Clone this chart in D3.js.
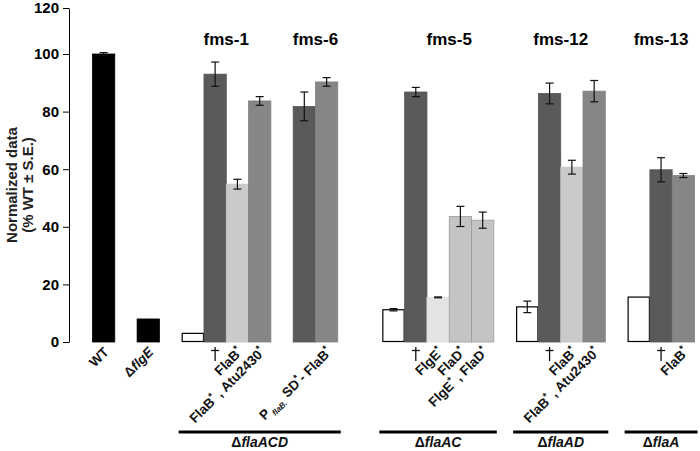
<!DOCTYPE html>
<html>
<head>
<meta charset="utf-8">
<script src="https://cdn.jsdelivr.net/npm/d3@7"></script>
<style>
  html, body { margin: 0; padding: 0; background: #fff; }
  svg { display: block; font-family: "Liberation Sans", Arial, sans-serif; }
</style>
</head>
<body>
<svg id="chart" width="700" height="451"></svg>
<script>
// ---------- DATA ----------
const barKeys  = ["WT","flgE","fms1_a","fms1_b","fms1_c","fms1_d","fms6_b","fms6_d",
                  "fms5_a","fms5_b","fms5_c","fms5_e","fms5_f",
                  "fms12_a","fms12_b","fms12_c","fms12_d",
                  "fms13_a","fms13_b","fms13_d"];
const values   = [100, 8, 3, 93, 54.8, 83.7, 81.8, 90.3,
                  11.2, 86.8, 15.5, 43.6, 42.3,
                  12.2, 86.3, 60.7, 87.1,
                  15.6, 59.8, 57.8];
const errors   = [0.6, 0, 0, 4.2, 1.7, 1.5, 5.0, 1.5,
                  0.4, 1.6, 0.15, 3.5, 2.8,
                  2.0, 3.6, 2.4, 3.7,
                  0, 4.2, 0.7];
const kinds    = ["black","black","white","dark","light","medium","dark","medium",
                  "white","dark","pale","grey","grey",
                  "white","dark","light","medium",
                  "white","dark","medium"];
// markup: "*" superscript, /x/ italic, ~x~ italic subscript, "†" dagger
const labels   = ["WT","Δ/flgE/","","†","FlaB*","FlaB* , Atu2430*","","P~flaB.~ SD*- FlaB*",
                  "","†","FlgE*","FlaD*","FlgE* , FlaD*",
                  "","†","FlaB*","FlaB* , Atu2430*",
                  "","†","FlaB*"];
// band slots (gap slots separate groups)
const slotOrder = ["WT","gap1","flgE","gap2",
                   "fms1_a","fms1_b","fms1_c","fms1_d","gap3",
                   "fms6_b","fms6_d","gap4","gap5",
                   "fms5_a","fms5_b","fms5_c","fms5_e","fms5_f","gap6",
                   "fms12_a","fms12_b","fms12_c","fms12_d","gap7",
                   "fms13_a","fms13_b","fms13_d"];
const titleText  = ["fms-1","fms-6","fms-5","fms-12","fms-13"];
const titleSpans = [["fms1_a","fms1_d"],["fms6_b","fms6_d"],["fms5_b","fms5_f"],["fms12_a","fms12_d"],["fms13_a","fms13_d"]];
const strainText  = ["flaACD","flaAC","flaAD","flaA"];
const strainSpans = [["fms1_a","fms6_d"],["fms5_a","fms5_f"],["fms12_a","fms12_d"],["fms13_a","fms13_d"]];
const yTicks = [0,20,40,60,80,100,120];

// ---------- STYLE ----------
const fills = {black:"#000000", white:"#ffffff", dark:"#5a5a5a", medium:"#868686",
               light:"#cacaca", pale:"#e4e4e4", grey:"#c4c4c4"};
const strokes = {black:"#000000", white:"#000000", dark:"#555555", medium:"#808080",
                 light:"#c4c4c4", pale:"#dedede", grey:"#9c9c9c"};

const svg = d3.select("#chart");

const x = d3.scaleBand().domain(slotOrder).range([92.5, 694.5]).paddingInner(0).paddingOuter(0);
// axis is truncated above 100 in the original figure
const y = d3.scaleLinear().domain([0, 100, 120]).range([342, 54, 8]);

// Y axis
const yAxis = d3.axisLeft(y).tickValues(yTicks).tickSize(6).tickPadding(4).tickSizeOuter(0);
const gy = svg.append("g").attr("transform", "translate(69,0)").call(yAxis);
gy.select(".domain").attr("stroke", "#000").attr("stroke-width", 1);
gy.selectAll(".tick line").attr("stroke", "#000");
gy.selectAll(".tick text").attr("fill", "#000").attr("font-size", 15).attr("font-weight", "bold")
  .attr("font-family", "Liberation Sans, Arial, sans-serif");

// Y title
const yt = svg.append("text").attr("transform", "translate(17,185) rotate(-90)")
  .attr("text-anchor", "middle").attr("font-size", 15).attr("font-weight", "bold").attr("fill", "#222");
yt.append("tspan").attr("x", 0).attr("dy", 0).text("Normalized data");
yt.append("tspan").attr("x", 0).attr("dy", 16).text("(% WT ± S.E.)");

const bars = barKeys.map((k, i) => ({key: k, v: values[i], e: errors[i], kind: kinds[i], label: labels[i]}));

// Bars
svg.append("g").selectAll("rect").data(bars).join("rect")
  .attr("x", d => x(d.key) + (d.kind === "white" ? 0.5 : 0))
  .attr("width", d => x.bandwidth() - (d.kind === "white" ? 1 : 0))
  .attr("y", d => y(d.v))
  .attr("height", d => y(0) - y(d.v) - (d.kind === "white" ? 0.5 : 0))
  .attr("fill", d => fills[d.kind])
  .attr("stroke", d => strokes[d.kind])
  .attr("stroke-width", d => d.kind === "white" ? 1.2 : 0.8);

// Error bars
const eb = svg.append("g").selectAll("g").data(bars.filter(d => d.e > 0)).join("g")
  .attr("stroke", "#111").attr("stroke-width", 1.2);
eb.append("line")
  .attr("x1", d => x(d.key) + x.bandwidth() / 2).attr("x2", d => x(d.key) + x.bandwidth() / 2)
  .attr("y1", d => y(d.v + d.e)).attr("y2", d => y(d.v - d.e));
eb.append("line")
  .attr("x1", d => x(d.key) + x.bandwidth() / 2 - 4).attr("x2", d => x(d.key) + x.bandwidth() / 2 + 4)
  .attr("y1", d => y(d.v + d.e)).attr("y2", d => y(d.v + d.e));
eb.append("line")
  .attr("x1", d => x(d.key) + x.bandwidth() / 2 - 4).attr("x2", d => x(d.key) + x.bandwidth() / 2 + 4)
  .attr("y1", d => y(d.v - d.e)).attr("y2", d => y(d.v - d.e));

// rich text
function rich(sel, s, size) {
  const re = /(\*|\/[^\/]+\/|~[^~]+~|[^*\/~]+)/g;
  let m, pendingShift = 0;
  while ((m = re.exec(s)) !== null) {
    const t = m[0];
    if (t === "*") {
      sel.append("tspan").attr("dy", -size * 0.38).attr("font-size", size * 0.72).text("*");
      pendingShift = size * 0.38;
    } else if (t[0] === "/") {
      const ts = sel.append("tspan").attr("font-style", "italic").text(t.slice(1, -1));
      if (pendingShift) { ts.attr("dy", pendingShift); pendingShift = 0; }
    } else if (t[0] === "~") {
      sel.append("tspan").attr("dy", size * 0.3).attr("font-size", size * 0.6)
        .attr("font-style", "italic").text("\u2009" + t.slice(1, -1));
      pendingShift = -size * 0.3;
    } else {
      const ts = sel.append("tspan").text(t);
      if (pendingShift) { ts.attr("dy", pendingShift); pendingShift = 0; }
    }
  }
}

// Category labels
const labelSize = 13.5;
bars.filter(d => d.label && d.label !== "†").forEach(d => {
  const cx = x(d.key) + x.bandwidth() / 2;
  const t = svg.append("text")
    .attr("transform", `translate(${cx + 6},353) rotate(-45)`)
    .attr("text-anchor", "end").attr("font-size", labelSize).attr("font-weight", "bold").attr("fill", "#111");
  rich(t, d.label, labelSize);
});
// dagger drawn as a thin cross (matches the thin glyph in the figure)
const daggers = svg.append("g").selectAll("g").data(bars.filter(d => d.label === "†")).join("g")
  .attr("stroke", "#111").attr("stroke-width", 1.3);
daggers.append("line")
  .attr("x1", d => x(d.key) + x.bandwidth() / 2).attr("x2", d => x(d.key) + x.bandwidth() / 2)
  .attr("y1", 347).attr("y2", 361);
daggers.append("line")
  .attr("x1", d => x(d.key) + x.bandwidth() / 2 - 4).attr("x2", d => x(d.key) + x.bandwidth() / 2 + 4)
  .attr("y1", 350.5).attr("y2", 350.5);

// Group titles
titleText.forEach((t, i) => {
  const [a, b] = titleSpans[i];
  const cx = (x(a) + x(b) + x.bandwidth()) / 2;
  svg.append("text").attr("x", cx).attr("y", 45).attr("text-anchor", "middle")
    .attr("font-size", 17).attr("font-weight", "bold").attr("fill", "#000").text(t);
});

// Strain brackets
strainText.forEach((t, i) => {
  const [a, b] = strainSpans[i];
  const x0 = x(a) - 3, x1 = Math.min(x(b) + x.bandwidth() + 3, 700);
  svg.append("line").attr("x1", x0).attr("x2", x1).attr("y1", 432).attr("y2", 432)
    .attr("stroke", "#000").attr("stroke-width", 3);
  const tx = svg.append("text").attr("x", (x0 + x1) / 2).attr("y", 447).attr("text-anchor", "middle")
    .attr("font-size", 14).attr("font-weight", "bold").attr("fill", "#111");
  tx.append("tspan").text("Δ");
  tx.append("tspan").attr("font-style", "italic").text(t);
});
</script>
</body>
</html>
